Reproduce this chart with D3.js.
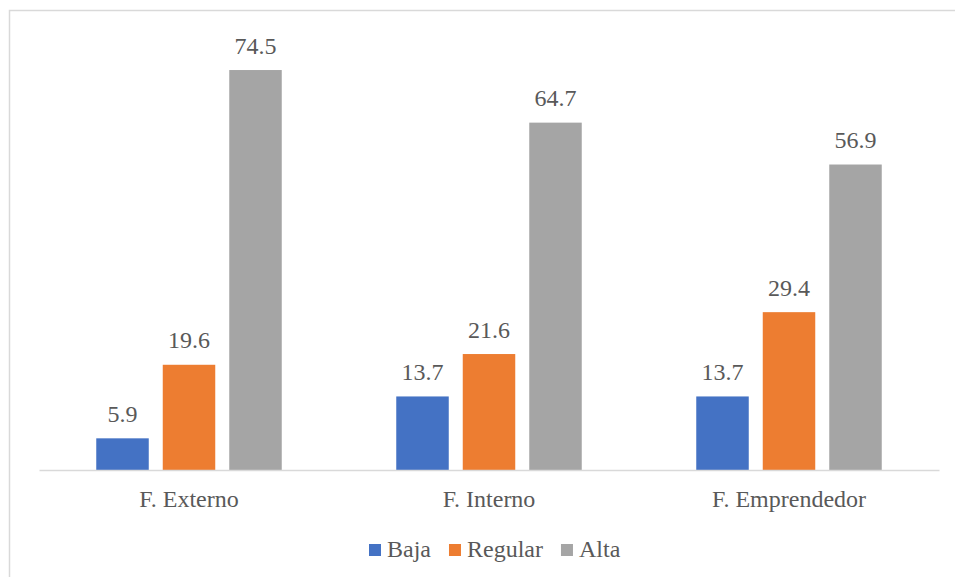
<!DOCTYPE html>
<html>
<head>
<meta charset="utf-8">
<script src="https://cdn.jsdelivr.net/npm/d3@7"></script>
<style>
  html, body { margin: 0; padding: 0; background: #fff; }
  svg { display: block; }
  svg text { font-family: "Liberation Serif", "Times New Roman", Times, "DejaVu Serif", serif; }
</style>
</head>
<body>
<svg id="chart" width="955" height="577"></svg>
<script>
const categories = ["F. Externo", "F. Interno", "F. Emprendedor"];
const seriesNames = ["Baja", "Regular", "Alta"];
const seriesColors = ["#4472C4", "#ED7D31", "#A5A5A5"];
const baja = [5.9, 13.7, 13.7];
const regular = [19.6, 21.6, 29.4];
const alta = [74.5, 64.7, 56.9];
const seriesValues = [baja, regular, alta];

const svg = d3.select("#chart");
const font = '"Liberation Serif", "Times New Roman", Times, "DejaVu Serif", serif';
const textColor = "#595959";

// chart border
svg.append("rect")
  .attr("x", 9.5).attr("y", 10.5)
  .attr("width", 960).attr("height", 580)
  .attr("fill", "none").attr("stroke", "#d9d9d9").attr("stroke-width", 1.5);

const x0 = d3.scaleBand().domain(categories).range([39, 939]).paddingInner(0).paddingOuter(0);
const x1 = d3.scaleBand().domain(seriesNames).range([0, x0.bandwidth()])
  .paddingInner(0.2105).paddingOuter(0.861);
const y = d3.scaleLinear().domain([0, 80]).range([470, 40.5]);

const data = [];
categories.forEach((c, i) => {
  seriesNames.forEach((s, j) => {
    data.push({ cat: c, series: s, value: seriesValues[j][i], color: seriesColors[j] });
  });
});

const g = svg.append("g");
g.selectAll("rect.bar").data(data).enter().append("rect")
  .attr("class", "bar")
  .attr("x", d => x0(d.cat) + x1(d.series))
  .attr("y", d => y(d.value))
  .attr("width", x1.bandwidth())
  .attr("height", d => y(0) - y(d.value))
  .attr("fill", d => d.color);

g.selectAll("text.val").data(data).enter().append("text")
  .attr("class", "val")
  .attr("x", d => x0(d.cat) + x1(d.series) + x1.bandwidth() / 2)
  .attr("y", d => y(d.value) - 16.5)
  .attr("text-anchor", "middle")
  .style("font-family", font).style("font-size", "24px")
  .attr("fill", textColor)
  .text(d => d.value.toFixed(1));

// x axis
const xAxis = d3.axisBottom(x0).tickSize(0).tickPadding(0);
const ax = svg.append("g").attr("transform", `translate(0, ${y(0)})`).call(xAxis);
ax.attr("font-family", null).attr("font-size", null);
ax.select(".domain").attr("stroke", "#d9d9d9").attr("stroke-width", 1.5);
ax.selectAll(".tick text")
  .style("font-family", font).style("font-size", "24px")
  .attr("fill", textColor)
  .attr("dy", null)
  .attr("y", 37);

// legend
const legend = svg.append("g");
let lx = 369;
seriesNames.forEach((s, j) => {
  legend.append("rect")
    .attr("x", lx).attr("y", 544)
    .attr("width", 12).attr("height", 12)
    .attr("fill", seriesColors[j]);
  const t = legend.append("text")
    .attr("x", lx + 18).attr("y", 557)
    .style("font-family", font).style("font-size", "24px")
    .attr("fill", textColor)
    .text(s);
  const w = t.node().getComputedTextLength();
  lx = lx + 18 + w + 18;
});
</script>
</body>
</html>
